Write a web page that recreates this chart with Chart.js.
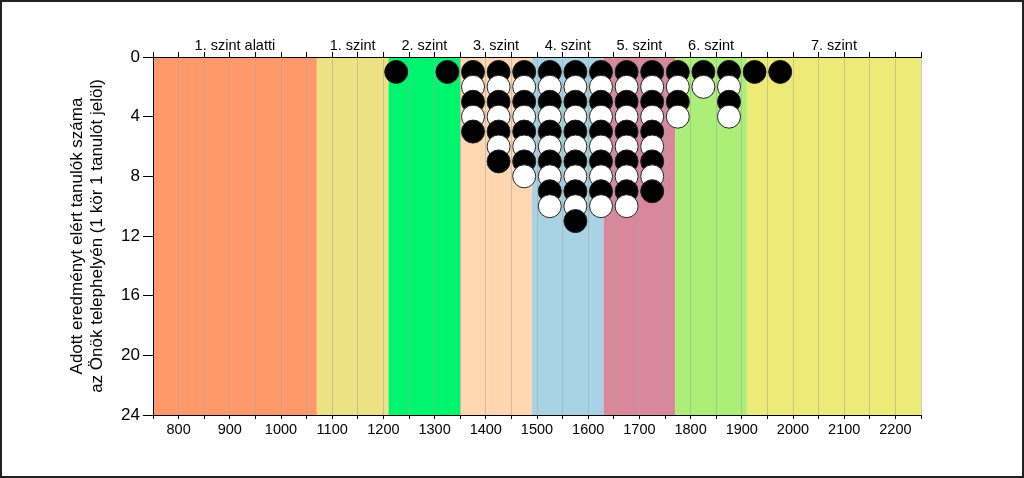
<!DOCTYPE html>
<html>
<head>
<meta charset="utf-8">
<script src="https://cdn.jsdelivr.net/npm/chart.js@4"></script>
<style>
	body { margin: 0; background: #fff; }
	#wrap { position: relative; width: 1024px; height: 478px; }
	#frame {
		position: absolute; left: 0; top: 0; width: 1024px; height: 478px;
		box-sizing: border-box; border: 2px solid #222; pointer-events: none;
	}
</style>
</head>
<body>
<div id="wrap">
	<canvas id="chart" width="1024" height="478"></canvas>
	<div id="frame"></div>
</div>
<script>
const levels = ["1. szint alatti", "1. szint", "2. szint", "3. szint", "4. szint", "5. szint", "6. szint", "7. szint"];
const levelBounds = [750, 1070, 1210, 1350, 1490, 1630, 1770, 1910, 2250];
const levelColors = ["#FF996B", "#ECE284", "#00F56E", "#FFD6B0", "#A7D3E4", "#D8889A", "#ACEF78", "#EEEA78"];

// score bins (x) and number of students in each bin
const scoreBins = [1225, 1325, 1375, 1425, 1475, 1525, 1575, 1625, 1675, 1725, 1775, 1825, 1875, 1925, 1975];
const studentCounts = [1, 1, 5, 7, 8, 10, 11, 10, 10, 9, 4, 2, 4, 1, 1];

const yTitle = ["Adott eredményt elért tanulók száma", "az Önök telephelyén (1 kör 1 tanulót jelöl)"];

Chart.defaults.font.family = "'Liberation Sans', Arial, sans-serif";
Chart.defaults.font.size = 14;
Chart.defaults.color = "#000";

// one circle per student, row by row so the lower circle sits on top
const points = [];
const colors = [];
const maxCount = Math.max(...studentCounts);
for (let row = 1; row <= maxCount; row++) {
	scoreBins.forEach((x, i) => {
		if (studentCounts[i] >= row) {
			points.push({ x: x, y: row });
			colors.push(row % 2 ? "#000" : "#fff");
		}
	});
}

const levelBands = {
	id: "levelBands",
	beforeDraw(chart) {
		const { ctx, chartArea } = chart;
		const x = chart.scales.x;
		ctx.save();
		levelColors.forEach((c, i) => {
			const x0 = x.getPixelForValue(levelBounds[i]);
			const x1 = x.getPixelForValue(levelBounds[i + 1]);
			ctx.fillStyle = c;
			ctx.fillRect(x0, chartArea.top, x1 - x0, chartArea.bottom - chartArea.top);
		});
		ctx.restore();
	},
	afterDraw(chart) {
		const { ctx, chartArea } = chart;
		const x = chart.scales.x;
		ctx.save();
		ctx.font = "14.5px 'Liberation Sans', Arial, sans-serif";
		ctx.fillStyle = "#000";
		ctx.textAlign = "center";
		ctx.textBaseline = "alphabetic";
		levels.forEach((name, i) => {
			const cx = x.getPixelForValue((levelBounds[i] + levelBounds[i + 1]) / 2);
			ctx.fillText(name, cx, chartArea.top - 7);
		});
		ctx.restore();
	},
};

new Chart(document.getElementById("chart"), {
	type: "scatter",
	plugins: [levelBands],
	data: {
		datasets: [
			{
				data: points,
				backgroundColor: colors,
				borderColor: "#222",
				borderWidth: 1,
				pointRadius: 11.5,
				pointHoverRadius: 11.5,
				xAxisID: "x",
				yAxisID: "y",
			},
		],
	},
	options: {
		responsive: false,
		animation: false,
		layout: { padding: { left: 0, right: 103, top: 0, bottom: 28 } },
		plugins: {
			legend: { display: false },
			tooltip: { enabled: false },
		},
		scales: {
			x: {
				type: "linear",
				position: "bottom",
				min: 750,
				max: 2250,
				ticks: {
					stepSize: 50,
					autoSkip: false,
					maxRotation: 0,
					padding: 2,
					font: { size: 14.5 },
					callback: v => (v % 100 === 0 ? v : ""),
				},
				grid: {
					color: "rgba(165,165,165,0.55)",
					tickColor: "#000",
					tickLength: 4,
				},
				border: { color: "#000", width: 1 },
				afterFit: s => { s.height = 35; },
			},
			x2: {
				type: "linear",
				position: "top",
				min: 750,
				max: 2250,
				ticks: { stepSize: 50, display: false },
				grid: {
					drawOnChartArea: false,
					tickColor: "#000",
					tickLength: 5,
				},
				border: { color: "#000", width: 1 },
				afterFit: s => { s.height = 57; },
			},
			y: {
				type: "linear",
				reverse: true,
				min: 0,
				max: 24,
				ticks: { stepSize: 4, padding: 3, font: { size: 17 } },
				grid: {
					drawOnChartArea: false,
					tickColor: "#000",
					tickLength: 10,
				},
				border: { color: "#000", width: 1 },
				title: {
					display: true,
					text: yTitle,
					font: { size: 17, lineHeight: 1.15 },
					padding: { top: 68, bottom: 0 },
				},
				afterFit: s => { s.width = 153; },
			},
		},
	},
});
</script>
</body>
</html>
